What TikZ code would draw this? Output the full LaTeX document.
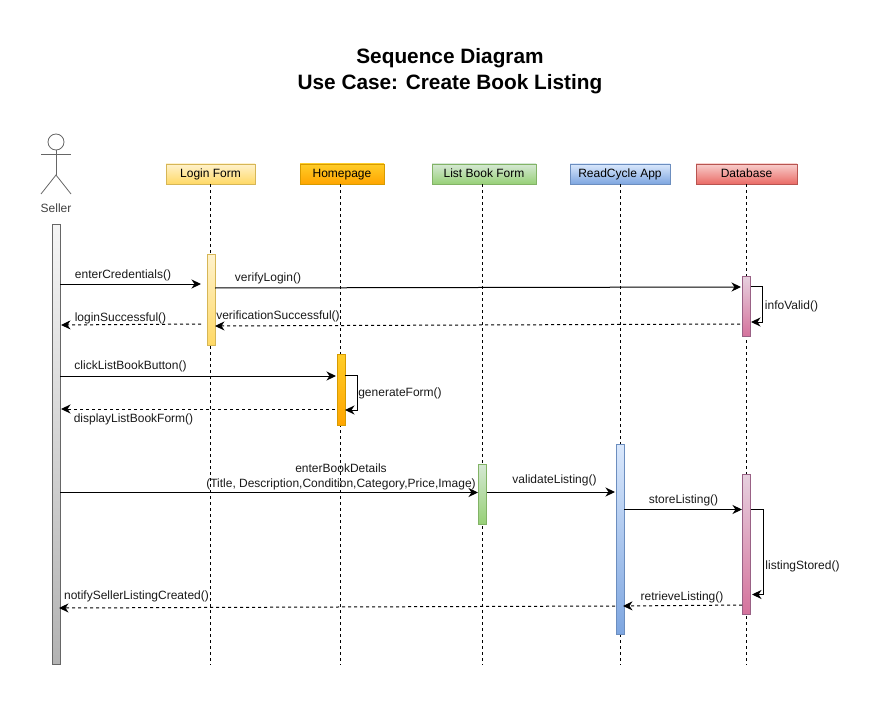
\documentclass[tikz,border=0pt]{standalone}
\usepackage{fontspec}
\setmainfont{Liberation Sans}
\usetikzlibrary{arrows.meta}
\definecolor{msgcolor}{HTML}{000000}
\definecolor{actorcolor}{HTML}{666666}
\tikzset{
    head/.style={draw=#1, line width=0.8pt, minimum height=20pt, inner sep=0pt, text height=9pt, text depth=2.5pt, font=\fontsize{12}{14}\selectfont},
    bar/.style={draw=#1, line width=0.8pt, minimum width=8pt, inner sep=0pt},
    msg/.style={draw=msgcolor, line width=1pt, -{Stealth[length=9.5pt,width=9pt,inset=3pt]}},
    reply/.style={msg, dash pattern=on 3pt off 3pt},
    life/.style={black, line width=0.8pt, dash pattern=on 3pt off 3pt},
    lbl/.style={inner sep=0pt, font=\fontsize{12}{14}\selectfont, text=black!90}
}

\begin{document}
\begin{tikzpicture}[x=1pt, y=-1pt]
    \useasboundingbox (0,0) rectangle (892,706);
    \node[inner sep=0pt, align=center, font=\bfseries\fontsize{20.8}{26}\selectfont] (title) at (450,71.5)
        {Sequence Diagram\\Use Case: Create Book Listing};

    % actor
    \coordinate (hip) at (56,175);
    \coordinate (armL) at (41,154);
    \coordinate (armR) at (71,154);
    \coordinate (footL) at (41,194);
    \coordinate (footR) at (71,194);
    \node[circle, draw=actorcolor, line width=0.8pt, minimum size=16pt, inner sep=0pt] (sellerHead) at (56,142) {};
    \draw[actorcolor, line width=0.8pt] (sellerHead.south) -- (hip);
    \draw[actorcolor, line width=0.8pt] (armL) -- (armR);
    \draw[actorcolor, line width=0.8pt] (footL) -- (hip) -- (footR);
    \node[lbl, text=black!75] (seller) at (56,208) {Seller};

    % lifelines
    \foreach \nm/\txt/\cx/\boxw/\ctop/\cbot/\cedge in {
        login/Login Form/210.5/89/fff2cc/ffd966/d6b656,
        home/Homepage/342/84/ffcd28/ffa500/d79b00,
        list/List Book Form/484/104/d5e8d4/97d077/82b366,
        app/ReadCycle App/620/100/dae8fc/7ea6e0/6c8ebf,
        db/Database/746.5/101/f8cecc/ea6b66/b85450}{
        \definecolor{t}{HTML}{\ctop}
        \definecolor{b}{HTML}{\cbot}
        \definecolor{e}{HTML}{\cedge}
        \node[head=e, minimum width=\boxw pt, top color=t, bottom color=b] (\nm) at (\cx,174) {\txt};
    }
    \coordinate (loginEnd) at (210.5,665);
    \coordinate (homeEnd) at (340,665);
    \coordinate (listEnd) at (482.5,665);
    \coordinate (appEnd) at (620,665);
    \coordinate (dbEnd) at (746,665);
    \draw[life] (login.south) -- (loginEnd);
    \draw[life] (home.south -| homeEnd) -- (homeEnd);
    \draw[life] (list.south -| listEnd) -- (listEnd);
    \draw[life] (app.south) -- (appEnd);
    \draw[life] (db.south -| dbEnd) -- (dbEnd);

    % activation bars
    \foreach \nm/\cx/\cy/\barh/\ctop/\cbot/\cedge in {
        sellerBar/56/444/440/f5f5f5/b3b3b3/666666,
        loginBar/211/299.5/91/fff2cc/ffd966/d6b656,
        homeBar/341/389.5/71/ffcd28/ffa500/d79b00,
        listBar/482.5/494/60/d5e8d4/97d077/82b366,
        appBar/620/539/190/dae8fc/7ea6e0/6c8ebf,
        dbBarA/746.5/306/60/e6d0de/d5739d/996185,
        dbBarB/746.5/544/140/e6d0de/d5739d/996185}{
        \definecolor{t}{HTML}{\ctop}
        \definecolor{b}{HTML}{\cbot}
        \definecolor{e}{HTML}{\cedge}
        \node[bar=e, minimum height=\barh pt, top color=t, bottom color=b] (\nm) at (\cx,\cy) {};
    }

    % messages
    \coordinate (credA) at (60,284);
    \coordinate (credB) at (201,284);
    \coordinate (verA) at (215,288);
    \coordinate (verB) at (741,287);
    \coordinate (validA) at (751,286);
    \coordinate (validC) at (762,286);
    \coordinate (validD) at (762,322);
    \coordinate (validB) at (751,322);
    \coordinate (succA) at (740,324);
    \coordinate (succB) at (215,326);
    \coordinate (loginA) at (201,324);
    \coordinate (loginB) at (61,325);
    \coordinate (clickA) at (60,376);
    \coordinate (clickB) at (336,376);
    \coordinate (genA) at (345,375);
    \coordinate (genC) at (357,375);
    \coordinate (genD) at (357,410);
    \coordinate (genB) at (345,410);
    \coordinate (dispA) at (335,409);
    \coordinate (dispB) at (61,409);
    \coordinate (bookA) at (60,492.5);
    \coordinate (bookB) at (478,492.5);
    \coordinate (checkA) at (487,492);
    \coordinate (checkB) at (615,492);
    \coordinate (storeA) at (624,509.5);
    \coordinate (storeB) at (742,509.5);
    \coordinate (stoA) at (751,509.5);
    \coordinate (stoC) at (763.5,509.5);
    \coordinate (stoD) at (763.5,594.5);
    \coordinate (stoB) at (752,594.5);
    \coordinate (retA) at (742,605);
    \coordinate (retB) at (623,606);
    \coordinate (notA) at (615,606);
    \coordinate (notB) at (59,608);

    \draw[msg] (credA) -- (credB);
    \draw[msg] (verA) -- (verB);
    \draw[msg] (validA) -- (validC) -- (validD) -- (validB);
    \draw[reply] (succA) -- (succB);
    \draw[reply] (loginA) -- (loginB);
    \draw[msg] (clickA) -- (clickB);
    \draw[msg] (genA) -- (genC) -- (genD) -- (genB);
    \draw[reply] (dispA) -- (dispB);
    \draw[msg] (bookA) -- (bookB);
    \draw[msg] (checkA) -- (checkB);
    \draw[msg] (storeA) -- (storeB);
    \draw[msg] (stoA) -- (stoC) -- (stoD) -- (stoB);
    \draw[reply] (retA) -- (retB);
    \draw[reply] (notA) -- (notB);

    % labels
    \node[lbl] (credLbl) at (123,275) {enterCredentials()};
    \node[lbl] (verLbl) at (268,278) {verifyLogin()};
    \node[lbl] (validLbl) at (791.5,306) {infoValid()};
    \node[lbl] (succLbl) at (278,316) {verificationSuccessful()};
    \node[lbl] (loginLbl) at (120.5,318) {loginSuccessful()};
    \node[lbl] (clickLbl) at (130.5,366) {clickListBookButton()};
    \node[lbl] (genLbl) at (400,393) {generateForm()};
    \node[lbl] (dispLbl) at (133.5,419) {displayListBookForm()};
    \node[lbl, align=center, font=\fontsize{12}{15}\selectfont] (bookLbl) at (341,476.5)
        {enterBookDetails\\(Title, Description,Condition,Category,Price,Image)};
    \node[lbl] (checkLbl) at (554.5,480) {validateListing()};
    \node[lbl] (storeLbl) at (683.5,500) {storeListing()};
    \node[lbl] (stoLbl) at (802.5,566) {listingStored()};
    \node[lbl] (retLbl) at (682,597) {retrieveListing()};
    \node[lbl] (notLbl) at (136.5,596) {notifySellerListingCreated()};
\end{tikzpicture}
\end{document}
